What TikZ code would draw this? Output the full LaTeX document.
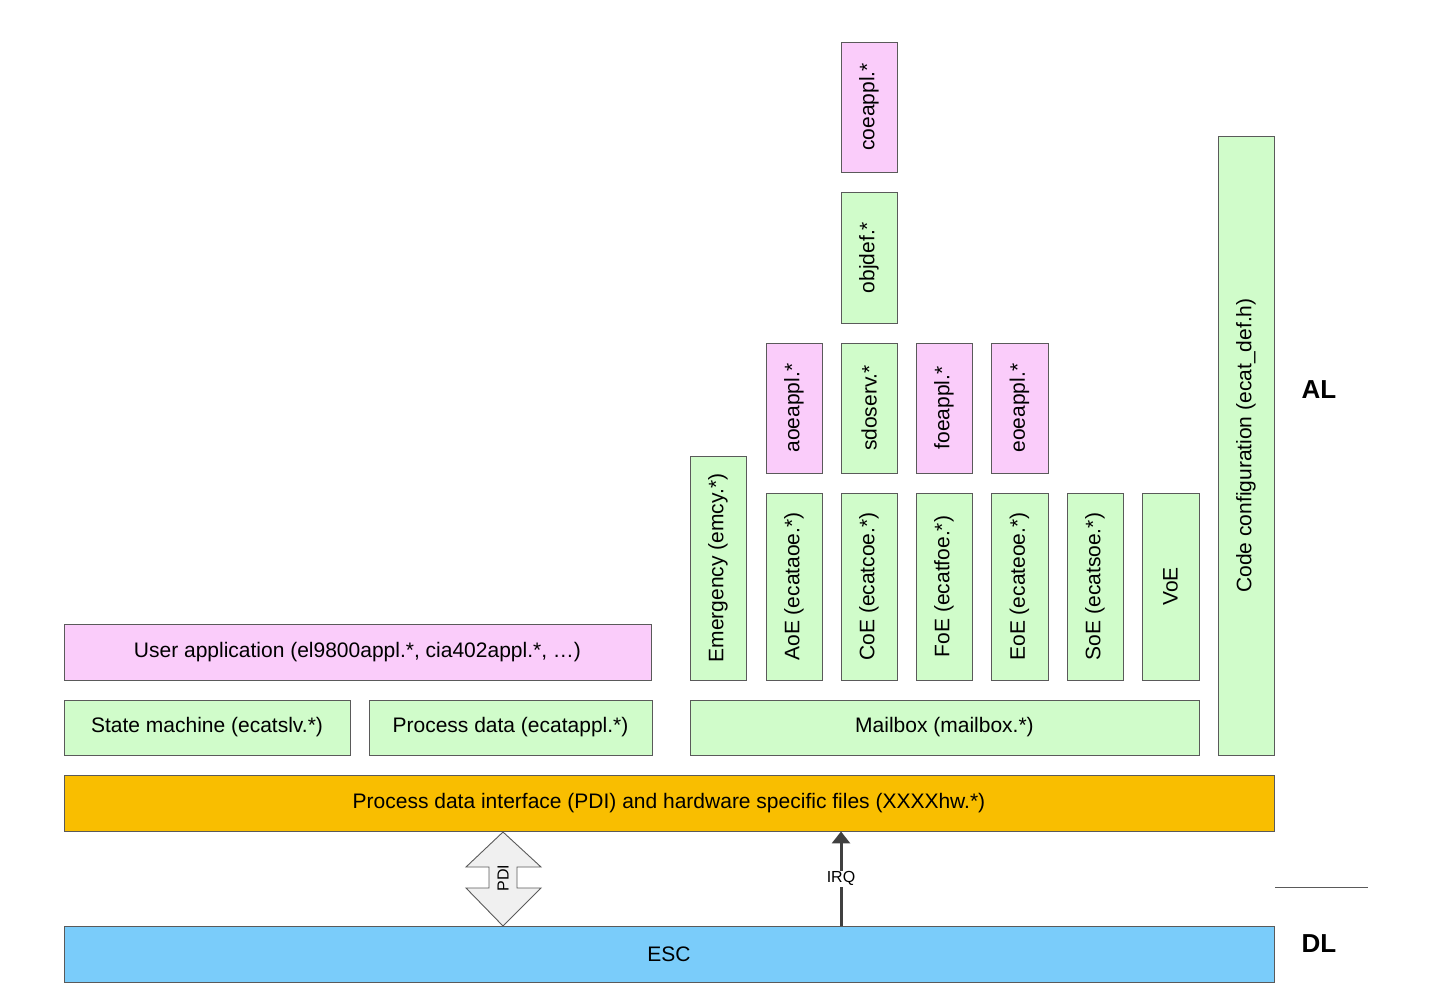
\documentclass[tikz,border=0pt]{standalone}
\usepackage{fontspec}
\setmainfont{Liberation Sans}
\usetikzlibrary{arrows.meta}
\definecolor{gbox}{RGB}{208,252,202}
\definecolor{pbox}{RGB}{250,204,250}
\definecolor{obox}{RGB}{249,190,0}
\definecolor{bbox}{RGB}{122,204,250}
\definecolor{edge}{RGB}{90,90,90}
\definecolor{arrowfill}{RGB}{240,240,240}
\definecolor{irqc}{RGB}{64,64,64}
\begin{document}
\begin{tikzpicture}[x=1pt,y=-1pt,
  box/.style={draw=edge, line width=0.9pt, inner sep=0pt, font=\fontsize{21}{24}\selectfont},
  gb/.style={box, fill=gbox},
  pb/.style={box, fill=pbox},
  vert/.style={rotate=90},
  lay/.style={font=\fontsize{26}{30}\selectfont\bfseries}]
\useasboundingbox (0,0) rectangle (1441,1007);
% horizontal boxes
\node[pb, minimum width=587, minimum height=56] (user) at (357.5,652) {User application (el9800appl.*, cia402appl.*, \dots)};
\node[gb, minimum width=286, minimum height=55] (state) at (207,727.5) {State machine (ecatslv.*)};
\node[gb, minimum width=283, minimum height=55] (pdata) at (510.5,727.5) {Process data (ecatappl.*)};
\node[gb, minimum width=509, minimum height=55] (mbox) at (944.5,727.5) {Mailbox (mailbox.*)};
\node[box, fill=obox, minimum width=1210, minimum height=56] (pdi) at (669,803) {Process data interface (PDI) and hardware specific files (XXXXhw.*)};
\node[box, fill=bbox, minimum width=1210, minimum height=56] (esc) at (669,954) {ESC};
% vertical boxes
\node[gb, vert, minimum width=619, minimum height=56] (code) at (1246,445.5) {Code configuration (ecat\_def.h)};
\node[gb, vert, minimum width=224, minimum height=56] (emcy) at (718,568) {Emergency (emcy.*)};
\node[gb, vert, minimum width=187, minimum height=56] (aoe) at (794,586.5) {AoE (ecataoe.*)};
\node[gb, vert, minimum width=187, minimum height=56] (coe) at (869,586.5) {CoE (ecatcoe.*)};
\node[gb, vert, minimum width=187, minimum height=56] (foe) at (944,586.5) {FoE (ecatfoe.*)};
\node[gb, vert, minimum width=187, minimum height=57] (eoe) at (1019.5,586.5) {EoE (ecateoe.*)};
\node[gb, vert, minimum width=187, minimum height=56] (soe) at (1095,586.5) {SoE (ecatsoe.*)};
\node[gb, vert, minimum width=187, minimum height=57] (voe) at (1170.5,586.5) {VoE};
\node[pb, vert, minimum width=130, minimum height=56] (aoeappl) at (794,408) {aoeappl.*};
\node[gb, vert, minimum width=130, minimum height=56] (sdoserv) at (869,408) {sdoserv.*};
\node[pb, vert, minimum width=130, minimum height=56] (foeappl) at (944,408) {foeappl.*};
\node[pb, vert, minimum width=130, minimum height=57] (eoeappl) at (1019.5,408) {eoeappl.*};
\node[gb, vert, minimum width=131, minimum height=56] (objdef) at (869,257.5) {objdef.*};
\node[pb, vert, minimum width=130, minimum height=56] (coeappl) at (869,107) {coeappl.*};
% layer labels
\node[lay] (al) at (1319,390) {AL};
\node[lay] (dl) at (1319,944) {DL};
\coordinate (sepL) at (1275,887);
\coordinate (sepR) at (1368,887);
\draw[edge, line width=0.9pt] (sepL) -- (sepR);
% PDI double arrow
\draw[edge, fill=arrowfill, line width=0.9pt, line join=miter]
  (503,832) -- (541,867) -- (517,867) -- (517,888) -- (541,888) -- (503,926)
  -- (466,888) -- (489,888) -- (489,867) -- (466,867) -- cycle;
\node[rotate=90, font=\fontsize{16}{18}\selectfont, inner sep=0pt] (pdilab) at (503,878) {PDI};
% IRQ arrow
\coordinate (irqb) at (841,926);
\draw[irqc, line width=3pt, -{Triangle[length=12pt,width=18pt]}] (irqb) -- (irqb |- pdi.south)
  node[pos=0.5, fill=white, text=black, inner sep=1pt, font=\fontsize{16}{18}\selectfont] (irq) {IRQ};
\end{tikzpicture}
\end{document}
